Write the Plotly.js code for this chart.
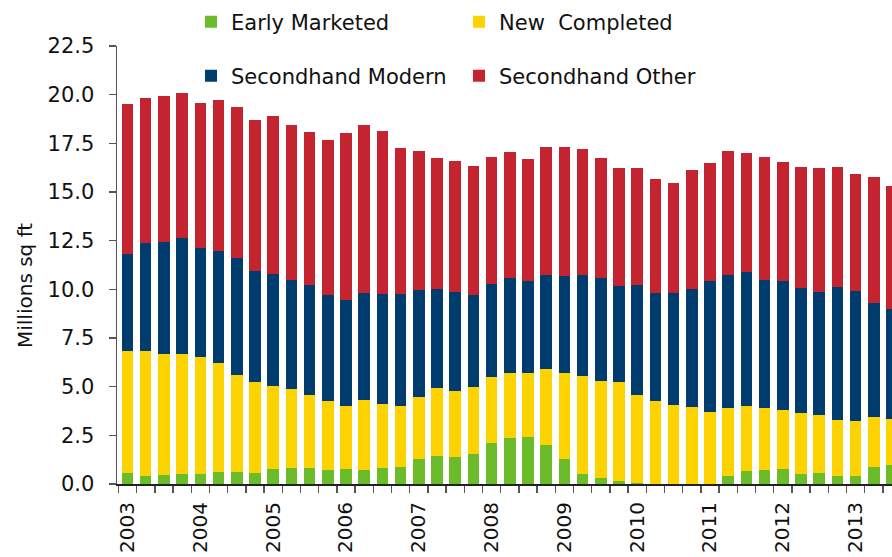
<!DOCTYPE html>
<html>
<head>
<meta charset="utf-8">
<script src="https://cdn.plot.ly/plotly-3.0.1.min.js"></script>
<style>html,body{margin:0;padding:0;background:#fff;}#chart{width:892px;height:557px;}</style>
</head>
<body>
<div id="chart"></div>
<script>
// Quarterly series, 2003 Q1 .. 2013 Q3 (millions sq ft)
var quarters = [];
for (var yr = 2003; yr <= 2013; yr++) { for (var q = 1; q <= 4; q++) { quarters.push(yr + ' Q' + q); } }
quarters = quarters.slice(0, 43);

var earlyMarketed = [0.58,0.41,0.45,0.53,0.50,0.60,0.60,0.58,0.77,0.82,
  0.80,0.72,0.77,0.72,0.84,0.89,1.28,1.45,1.40,1.54,
  2.12,2.38,2.40,2.02,1.27,0.51,0.32,0.16,0.04,0,
  0,0,0,0.41,0.68,0.70,0.79,0.53,0.58,0.41,
  0.41,0.89,0.98];
var newCompleted = [6.27,6.44,6.23,6.13,6.01,5.60,5.00,4.64,4.26,4.04,
  3.77,3.54,3.25,3.59,3.27,3.13,3.21,3.48,3.38,3.43,
  3.39,3.34,3.30,3.89,4.45,5.04,4.99,5.06,4.53,4.26,
  4.06,3.97,3.68,3.51,3.34,3.19,3.03,3.10,2.95,2.89,
  2.81,2.57,2.34];
var secondhandModern = [4.96,5.51,5.77,5.96,5.59,5.78,6.01,5.74,5.76,5.62,
  5.63,5.45,5.43,5.52,5.63,5.72,5.49,5.07,5.08,4.72,
  4.76,4.86,4.74,4.84,4.95,5.20,5.25,4.97,5.65,5.57,
  5.73,6.03,6.76,6.83,6.88,6.60,6.59,6.45,6.35,6.80,
  6.71,5.86,5.66];
var secondhandOther = [7.71,7.47,7.50,7.48,7.47,7.74,7.75,7.72,8.13,7.96,
  7.90,7.96,8.56,8.61,8.41,7.50,7.14,6.73,6.75,6.64,
  6.51,6.47,6.24,6.57,6.65,6.44,6.20,6.02,5.99,5.85,
  5.65,6.13,6.03,6.37,6.08,6.30,6.13,6.22,6.35,6.18,
  6.02,6.43,6.33];
var yearLabels = ['2003','2004','2005','2006','2007','2008','2009','2010','2011','2012','2013'];
var yTicks = [0,2.5,5,7.5,10,12.5,15,17.5,20,22.5];
var yTitle = 'Millions sq ft';

var xIdx = quarters.map(function (_, i) { return i; });
var yearTickVals = yearLabels.map(function (_, i) { return i * 4; });

var FONT = 'DejaVu Sans, Arial, sans-serif';
var colors = {early: '#6cbb2b', newc: '#fcd200', modern: '#003d6e', other: '#c4242f'};

function bar(name, data, color, legend) {
  return {type: 'bar', name: name, x: xIdx, y: data, marker: {color: color},
          legend: legend, hoverinfo: 'y+name'};
}
var traces = [
  bar('Early Marketed', earlyMarketed, colors.early, 'legend'),
  bar('New  Completed', newCompleted, colors.newc, 'legend'),
  bar('Secondhand Modern', secondhandModern, colors.modern, 'legend2'),
  bar('Secondhand Other', secondhandOther, colors.other, 'legend2')
];

var legendCommon = {orientation: 'h', xref: 'paper', yref: 'paper', xanchor: 'left', yanchor: 'middle',
  bgcolor: 'rgba(0,0,0,0)', borderwidth: 0, entrywidth: 223, entrywidthmode: 'pixels',
  font: {family: FONT, size: 21, color: '#111'}, traceorder: 'normal'};

var layout = {
  width: 892, height: 557,
  margin: {l: 117, r: 0, t: 46, b: 73, pad: 0},
  paper_bgcolor: '#fff', plot_bgcolor: '#fff',
  barmode: 'stack', bargap: 0.37,
  showlegend: true,
  legend: Object.assign({}, legendCommon, {x: 0.0955, y: (484 - 22) / 438}),
  legend2: Object.assign({}, legendCommon, {x: 0.0955, y: (484 - 76) / 438}),
  font: {family: FONT, size: 20, color: '#111'},
  xaxis: {
    range: [-0.58, 42.0], showgrid: false, zeroline: false,
    showline: true, linecolor: '#222', linewidth: 2,
    tickmode: 'array', tickvals: yearTickVals, ticktext: yearLabels,
    ticks: '', tickangle: -90, ticklabelstandoff: 8,
    tickfont: {family: FONT, size: 20, color: '#111'},
    minor: {tick0: 0.5, dtick: 1, ticks: 'outside', ticklen: 7, tickwidth: 1.5, tickcolor: '#555', showgrid: false}
  },
  yaxis: {
    range: [0, 22.5], showgrid: false, zeroline: false,
    showline: true, linecolor: '#555', linewidth: 1.5,
    tickmode: 'array', tickvals: yTicks, tickformat: '.1f',
    ticks: 'outside', ticklen: 7, tickwidth: 1.5, tickcolor: '#555',
    ticklabelstandoff: 10,
    tickfont: {family: FONT, size: 21, color: '#111'}
  },
  annotations: [{
    text: yTitle, xref: 'paper', yref: 'paper', x: -106 / 775, y: (484 - 286) / 438,
    xanchor: 'left', yanchor: 'middle', textangle: -90, showarrow: false,
    font: {family: FONT, size: 20, color: '#111'}
  }]
};

Plotly.newPlot('chart', traces, layout, {displayModeBar: false, staticPlot: true});
</script>
</body>
</html>
